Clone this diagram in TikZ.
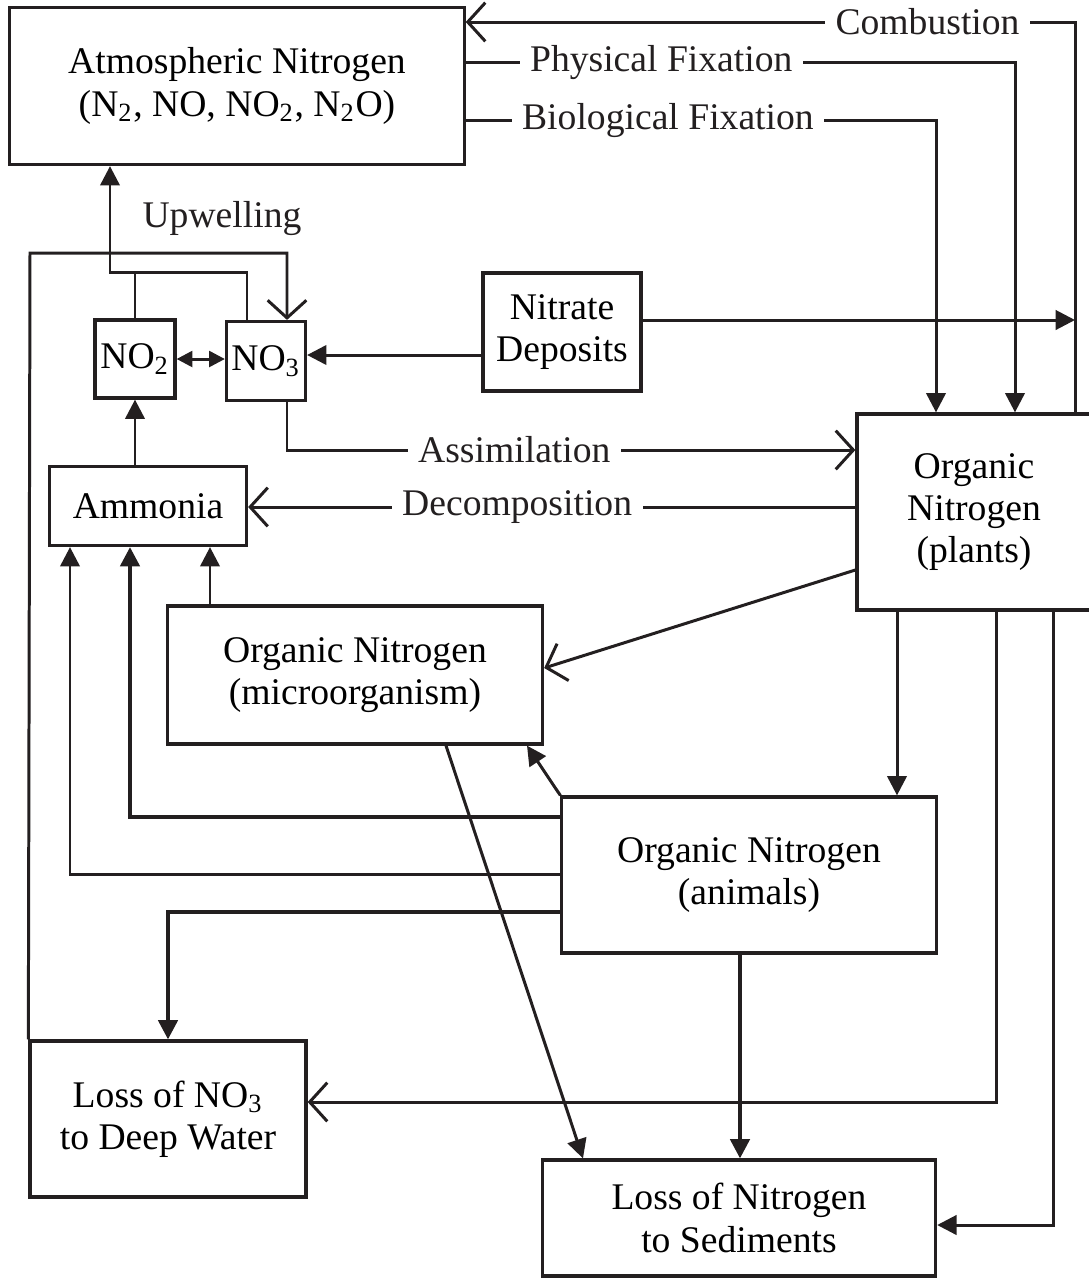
\documentclass[tikz,border=0pt]{standalone}
\usepackage{fontspec}
\setmainfont{Liberation Serif}
\usetikzlibrary{arrows.meta,positioning}
\definecolor{nink}{HTML}{231F20}

\begin{document}
\begin{tikzpicture}[
  x=0.01cm,y=-0.01cm,
  box/.style={draw=nink,line width=0.9pt,align=center,inner sep=2pt,
              font=\fontsize{10.7}{12}\selectfont},
  lbl/.style={fill=white,inner sep=3pt,text=nink,font=\fontsize{10.7}{12}\selectfont},
  con/.style={line width=0.85pt,color=nink},
  farr/.style={con,-{Triangle[length=5.5pt,width=5.5pt]}},
  oarr/.style={con,-{Straight Barb[length=5pt,width=11pt]}},
  darr/.style={con,{Triangle[length=4.5pt,width=4.5pt]}-{Triangle[length=4.5pt,width=4.5pt]}}
]
\useasboundingbox (0,0) rectangle (1089,1278);
% boxes
\node[box,minimum width=4.54cm,minimum height=1.57cm] (atm) at (237,86)
  {Atmospheric Nitrogen\\(N\textsubscript{2}, NO, NO\textsubscript{2}, N\textsubscript{2}O)};
\node[box,minimum width=0.80cm,minimum height=0.78cm,inner sep=0pt] (no2) at (135,359) {NO\textsubscript{2}};
\node[box,minimum width=0.79cm,minimum height=0.79cm,inner sep=0pt] (no3) at (266,361) {NO\textsubscript{3}};
\node[box,minimum width=1.58cm,minimum height=1.18cm] (nitrate) at (562,332) {Nitrate\\Deposits};
\node[box,minimum width=1.97cm,minimum height=0.79cm] (ammonia) at (148,506) {Ammonia};
\node[box,minimum width=2.34cm,minimum height=1.96cm] (plants) at (974,512)
  {Organic\\Nitrogen\\(plants)};
\node[box,minimum width=3.75cm,minimum height=1.38cm] (micro) at (355,675)
  {Organic Nitrogen\\(microorganism)};
\node[box,minimum width=3.74cm,minimum height=1.56cm] (animals) at (749,875)
  {Organic Nitrogen\\(animals)};
\node[box,minimum width=2.76cm,minimum height=1.56cm] (lossno3) at (168,1119)
  {Loss of NO\textsubscript{3}\\to Deep Water};
\node[box,minimum width=3.93cm,minimum height=1.16cm] (sed) at (739,1218)
  {Loss of Nitrogen\\to Sediments};
\node[lbl,fill=none] (upw) at (222,218) {Upwelling};
\coordinate (combline) at (1075,320);

% top connectors
\draw[oarr] (plants.north -| 1075,0) -- (1075,22)
  -- node[lbl,pos=0.242]{Combustion} (atm.east |- 0,22);
\draw[farr] (atm.east |- 0,62) -- node[lbl,pos=0.356]{Physical Fixation} (1015,62)
  -- (plants.north -| 1015,0);
\draw[farr] (atm.east |- 0,120) -- node[lbl,pos=0.43]{Biological Fixation} (936,120)
  -- (plants.north -| 936,0);
\draw[farr] (nitrate.east |- combline) -- (combline);
\draw[farr] (nitrate.west |- 0,355) -- (no3.east |- 0,355);
\draw[darr] (no2.east) -- (no3.west |- no2.east);
\draw[con] (no2.north) -- (no2.north |- 0,272);
\draw[farr] (no3.north -| 247,0) |- (110,272) -- (atm.south -| 110,0);
\draw[oarr] (lossno3.north west) -- (30,253) -| (no3.north -| 287,0);

% middle connectors
\draw[farr] (ammonia.north -| no2.south) -- (no2.south);
\draw[oarr] (no3.south -| 287,0) |- node[lbl,pos=0.7]{Assimilation} (plants.west |- 0,450);
\draw[oarr] (plants.west |- 0,507) -- node[lbl,pos=0.557]{Decomposition} (ammonia.east |- 0,507);
\draw[farr] (micro.north -| 210,0) -- (ammonia.south -| 210,0);
\draw[oarr] (plants.west |- 0,570) -- (micro.east |- 0,668);
\draw[farr] (plants.south -| 897,0) -- (animals.north -| 897,0);
\draw[farr] (animals.north west) -- (micro.south -| 527,0);
\draw[farr,line width=1.1pt] (animals.west |- 0,817) -| (ammonia.south -| 130,0);
\draw[farr] (animals.west |- 0,874) -| (ammonia.south -| 70,0);
\draw[farr,line width=1.1pt] (animals.west |- 0,912) -| (lossno3.north);

% bottom connectors
\draw[farr] (micro.south -| 446,0) -- (sed.north -| 583,0);
\draw[farr,line width=1.1pt] (animals.south -| 740,0) -- (sed.north -| 740,0);
\draw[oarr] (plants.south -| 996,0) |- (lossno3.east |- 0,1102);
\draw[farr] (plants.south -| 1053,0) |- (sed.east |- 0,1225);
\end{tikzpicture}
\end{document}
